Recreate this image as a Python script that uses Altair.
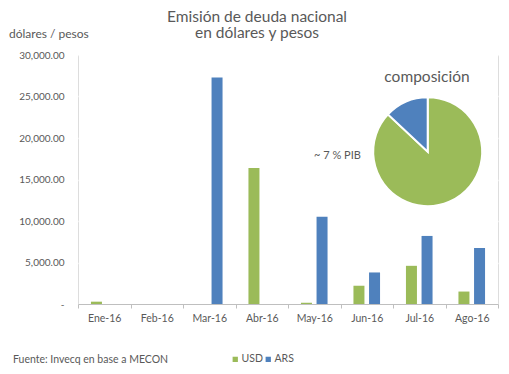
import altair as alt
import pandas as pd

months = ["Ene-16", "Feb-16", "Mar-16", "Abr-16", "May-16", "Jun-16", "Jul-16", "Ago-16"]
usd = [280, 0, 0, 16400, 150, 2200, 4600, 1500]
ars = [0, 0, 27300, 0, 10500, 3800, 8200, 6750]
series = ["USD", "ARS"]
colors = ["#9BBB59", "#4F81BD"]
pie_share = [87, 13]

rows = []
for m, u, a in zip(months, usd, ars):
    rows.append({"mes": m, "serie": "USD", "valor": u})
    rows.append({"mes": m, "serie": "ARS", "valor": a})
df = pd.DataFrame(rows)
pie_df = pd.DataFrame({"serie": series, "share": pie_share, "ord": [0, 1]})

FONT = "Lato"
GRAY = "#595959"

color = alt.Color("serie:N", scale=alt.Scale(domain=series, range=colors),
                  legend=alt.Legend(title=None, orient="none", direction="horizontal",
                                    legendX=152, legendY=299, symbolType="square",
                                    symbolSize=28, symbolStrokeWidth=0,
                                    labelFont=FONT, labelFontSize=10.5, labelColor=GRAY,
                                    columnPadding=0, symbolOffset=0, labelOffset=1))

bars = alt.Chart(df).mark_bar().encode(
    x=alt.X("mes:N", sort=months, title=None,
            scale=alt.Scale(paddingInner=0, paddingOuter=0),
            axis=alt.Axis(labelAngle=0, tickBand="extent", tickSize=4, labelPadding=5,
                          domainColor="#BFBFBF", tickColor="#BFBFBF", grid=False,
                          labelFont=FONT, labelFontSize=10.5, labelColor=GRAY)),
    xOffset=alt.XOffset("serie:N", sort=series,
                        scale=alt.Scale(paddingInner=0.295, paddingOuter=0.83)),
    y=alt.Y("valor:Q", title=None, scale=alt.Scale(domain=[0, 30000]),
            axis=alt.Axis(values=[0, 5000, 10000, 15000, 20000, 25000, 30000],
                          labelExpr="datum.value == 0 ? '-' : format(datum.value, ',.2f')",
                          domain=False, ticks=False, labelPadding=14,
                          gridColor="#FFFFFF", gridWidth=1.5,
                          labelFont=FONT, labelFontSize=10, labelColor=GRAY)),
    color=color,
)

pie = alt.Chart(pie_df).mark_arc(radius=54.5, stroke="white", strokeWidth=2).encode(
    theta=alt.Theta("share:Q", stack=True),
    order=alt.Order("ord:Q"),
    color=alt.Color("serie:N", scale=alt.Scale(domain=series, range=colors)),
    x=alt.value(349.7),
    y=alt.value(96.7),
)

texts_df = pd.DataFrame([
    {"t": "Emisión de deuda nacional", "x": 179, "y": -33.5},
    {"t": "en dólares y pesos", "x": 179, "y": -17},
])
titles = alt.Chart(texts_df).mark_text(font=FONT, color=GRAY, fontSize=15.5,
                                       align="center", baseline="alphabetic").encode(
    text="t:N", x=alt.X("x:Q", scale=None), y=alt.Y("y:Q", scale=None))


def label(txt, x, y, size, align="left"):
    return alt.Chart(pd.DataFrame({"t": [txt]})).mark_text(
        font=FONT, color=GRAY, fontSize=size,
        align=align, baseline="alphabetic").encode(
        text="t:N", x=alt.value(x), y=alt.value(y))


ylab = label("dólares / pesos", -69, -17, 12)
comp = label("composición", 349, 27, 15.5, "center")
pib = label("~ 7 % PIB", 236, 104, 11)
src = label("Fuente: Invecq en base a MECON", -65, 308, 10.5)

chart = alt.layer(bars, pie, titles, ylab, comp, pib, src).properties(
    width=420, height=249,
    autosize=alt.AutoSizeParams(type="none"),
    padding={"left": 70, "top": 47, "right": 2, "bottom": 63},
).configure_view(fill="#F2F2F2", stroke=None).configure(background="white")

chart.save("out.html", embed_options={"renderer": "svg", "actions": False})
